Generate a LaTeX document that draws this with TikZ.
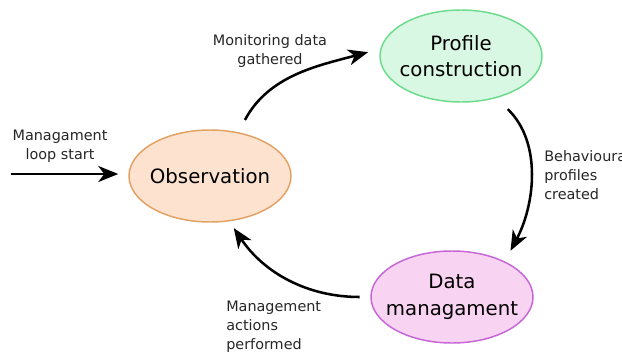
\documentclass[tikz,border=0pt]{standalone}
\usepackage{fontspec}
\setmainfont{DejaVu Sans}
\usetikzlibrary{shapes.geometric,arrows.meta}
\definecolor{obsfill}{HTML}{FDE3CF}
\definecolor{obsline}{HTML}{E3A163}
\definecolor{proffill}{HTML}{D8F8E3}
\definecolor{profline}{HTML}{6DDB8C}
\definecolor{datafill}{HTML}{F9D4F2}
\definecolor{dataline}{HTML}{C565D6}
\begin{document}
\begin{tikzpicture}[x=0.75pt,y=0.75pt,
  bub/.style={ellipse, draw, line width=1.1pt, minimum width=121.5pt, minimum height=69pt, inner xsep=-15pt, inner ysep=-10pt, align=center, font=\fontsize{14.8}{20}\selectfont},
  lab/.style={font=\fontsize{10.8}{14.3}\selectfont, text=black!85, inner sep=0pt},
  arr/.style={line width=1.9pt, -{Stealth[length=15pt,width=12pt,inset=4.5pt]}}]
\useasboundingbox (0,0) rectangle (622,-354);
\node[bub, fill=obsfill, draw=obsline] (obs) at (210,-176) {Observation};
\node[bub, fill=proffill, draw=profline] (prof) at (461,-56) {Profile\\construction};
\node[bub, fill=datafill, draw=dataline] (data) at (452,-297) {Data\\\makebox[0pt]{managament}};
\coordinate (start) at (11,-174);
\draw[arr, shorten >=7.5pt] (start) -- (start -| obs.west);
\draw[arr, shorten <=10.4pt, shorten >=9.4pt] (obs.57.5) to[out=62, in=195] (prof.175);
\draw[arr, shorten <=11.9pt, shorten >=9pt] (prof.-50.8) to[out=-44, in=62] (data.34);
\draw[arr, shorten <=8pt, shorten >=6pt] (data.west) to[out=180, in=-56] (obs.-67);
\node[lab, align=center] (l0) at (60,-146) {Managament\\loop start};
\node[lab, align=center] (l1) at (270,-51) {Monitoring data\\gathered};
\node[lab, align=left, anchor=west] (l2) at (544,-175) {Behavioural\\profiles\\created};
\node[lab, align=left, anchor=west] (l3) at (226,-327) {Management\\actions\\performed};
\end{tikzpicture}
\end{document}
